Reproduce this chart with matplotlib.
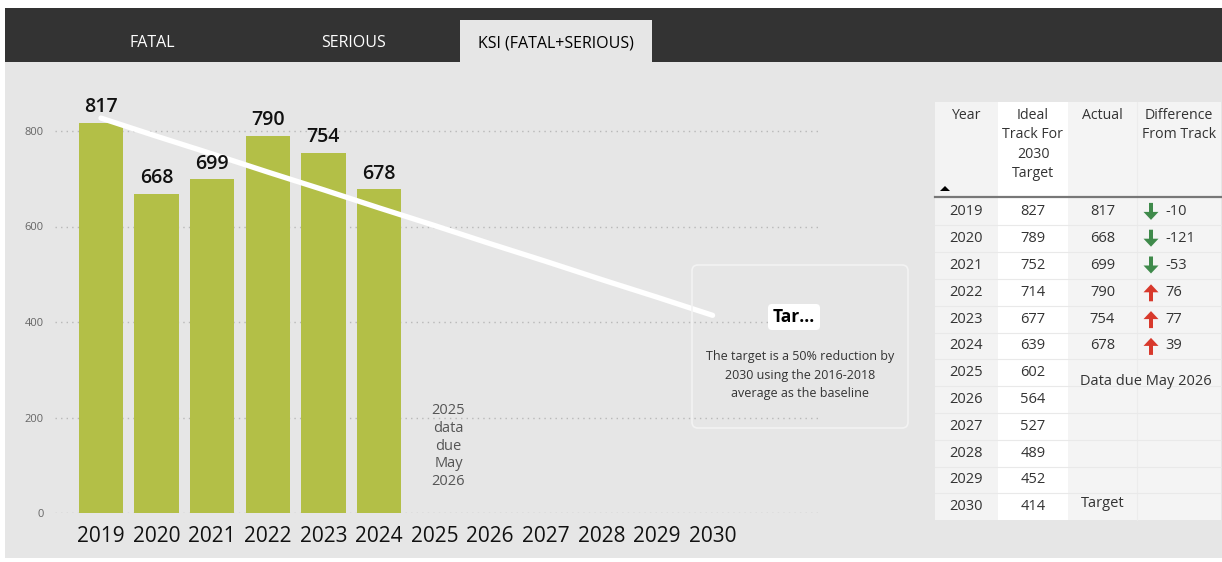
import matplotlib
matplotlib.use("Agg")
import matplotlib.pyplot as plt
from matplotlib.patches import Rectangle, FancyBboxPatch, FancyArrow, Polygon
import numpy as np

plt.rcParams["font.family"] = ["Open Sans", "DejaVu Sans"]

# Data
years = ["2019", "2020", "2021", "2022", "2023", "2024",
         "2025", "2026", "2027", "2028", "2029", "2030"]
ideal_track = [827, 789, 752, 714, 677, 639, 602, 564, 527, 489, 452, 414]
actual = [817, 668, 699, 790, 754, 678]
y_ticks = [0, 200, 400, 600, 800]
tabs = ["FATAL", "SERIOUS", "KSI (FATAL+SERIOUS)"]
table_headers = ["Year", "Ideal\nTrack For\n2030\nTarget", "Actual", "Difference\nFrom Track"]
pending_note = "2025\ndata\ndue\nMay\n2026"
target_note = ("The target is a 50% reduction by\n2030 using the 2016-2018\n"
               "average as the baseline")

W, H = 1222, 562
BG = "#e6e6e6"
BAR = "#b3bf47"

fig = plt.figure(figsize=(W / 100, H / 100), dpi=100)
fig.patch.set_facecolor("white")

# background / header layer in pixel coordinates
bg = fig.add_axes([0, 0, 1, 1], zorder=0)
bg.set_xlim(0, W)
bg.set_ylim(H, 0)
bg.axis("off")
bg.add_patch(Rectangle((5, 62), W - 5, 496, facecolor=BG, edgecolor="none"))
bg.add_patch(Rectangle((5, 8), W - 5, 54, facecolor="#333333", edgecolor="none"))
bg.add_patch(Rectangle((460, 20), 192, 42, facecolor=BG, edgecolor="none"))
for label, cx, col in zip(tabs, [152, 354, 556], ["white", "white", "black"]):
    bg.text(cx, 43, label, ha="center", va="center", fontsize=11.5, color=col)

# main chart
left, right = 55, 820
x0_pix, step = 101, 55.6
ymax = 880
ax = fig.add_axes([left / W, (H - 513) / H, (right - left) / W, ymax * 0.4775 / H], zorder=1)
ax.set_facecolor("none")
x = np.arange(len(years))
ax.set_xlim((left - x0_pix) / step, (right - x0_pix) / step)
ax.set_ylim(0, ymax)

ax.bar(x[:len(actual)], actual, width=0.8, color=BAR, zorder=2)
for xi, v in zip(x, actual):
    ax.annotate(str(v), (xi, v), xytext=(0, 4), textcoords="offset points",
                ha="center", va="bottom", fontsize=14, fontweight="semibold",
                color="#111111", zorder=4)

ax.plot(x, ideal_track, color="white", lw=3.8, solid_capstyle="round", zorder=3)

ax.text(6.25, 140, pending_note, ha="center", va="center", fontsize=10.5,
        color="#555555", linespacing=1.25)

ax.set_yticks(y_ticks)
ax.set_xticks(x)
ax.set_xticklabels(years, fontsize=15, color="#111111")
ax.tick_params(axis="y", length=0, pad=8, labelsize=8, labelcolor="#666666")
ax.tick_params(axis="x", length=0, pad=9)
ax.yaxis.grid(True, color="#b8b8b8", linestyle=(0, (1, 3)), linewidth=1)
ax.set_axisbelow(True)
for s in ax.spines.values():
    s.set_visible(False)

# overlay: tooltip box and table in pixel coordinates
ov = fig.add_axes([0, 0, 1, 1], zorder=2)
ov.set_xlim(0, W)
ov.set_ylim(H, 0)
ov.axis("off")

ov.add_patch(FancyBboxPatch((692, 265), 216, 163, boxstyle="round,pad=0,rounding_size=6",
                            facecolor="none", edgecolor="#f3f3f3", lw=1.2))
ov.add_patch(FancyBboxPatch((768, 304), 52, 26, boxstyle="round,pad=0,rounding_size=4",
                            facecolor="white", edgecolor="none"))
ov.text(794, 317, "Tar...", ha="center", va="center", fontsize=12.5,
        fontweight="bold", color="black")
ov.text(800, 375, target_note, ha="center", va="center", fontsize=9,
        color="#333333", linespacing=1.55)

# table
col_edges = [935, 998, 1068, 1137, 1221]
col_colors = ["#f3f3f3", "#ffffff", "#f4f4f4", "#f4f4f4"]
head_top, head_bot = 102, 198.5
row_h = 26.8
n_rows = len(years)
tbl_bot = head_bot + row_h * n_rows

for i in range(4):
    ov.add_patch(Rectangle((col_edges[i], head_top), col_edges[i + 1] - col_edges[i],
                           tbl_bot - head_top, facecolor=col_colors[i], edgecolor="none"))
ov.plot([col_edges[3], col_edges[3]], [head_top, tbl_bot], color="#ececec", lw=0.8)
for r in range(1, n_rows):
    yy = head_bot + r * row_h
    ov.plot([col_edges[0], col_edges[-1]], [yy, yy], color="#e9e9e9", lw=0.8)
ov.plot([col_edges[0], col_edges[-1]], [head_bot - 1.5, head_bot - 1.5], color="#777777", lw=1.6)

centers = [(col_edges[i] + col_edges[i + 1]) / 2 for i in range(4)]
for i, h in enumerate(table_headers):
    ov.text(centers[i], 108, h, ha="center", va="top",
            fontsize=10.2, color="#333333", linespacing=1.4)
ov.add_patch(Polygon([[940, 191], [950, 191], [945, 186]], closed=True,
                     facecolor="black", edgecolor="none"))

for r, (yr, it) in enumerate(zip(years, ideal_track)):
    cy = head_bot + (r + 0.5) * row_h
    ov.text(centers[0], cy, yr, ha="center", va="center", fontsize=10.5, color="#333333")
    ov.text(centers[1], cy, str(it), ha="center", va="center", fontsize=10.5, color="#333333")
    if r < len(actual):
        diff = actual[r] - it
        ov.text(centers[2], cy, str(actual[r]), ha="center", va="center",
                fontsize=10.5, color="#333333")
        if diff < 0:
            ov.add_patch(FancyArrow(1151, cy - 9, 0, 17, width=4, head_width=15,
                                    head_length=8, length_includes_head=True,
                                    facecolor="#3f8a4b", edgecolor="none"))
        else:
            ov.add_patch(FancyArrow(1151, cy + 9, 0, -17, width=4, head_width=15,
                                    head_length=8, length_includes_head=True,
                                    facecolor="#d8392c", edgecolor="none"))
        ov.text(1165, cy, str(diff), ha="left", va="center", fontsize=10.5, color="#333333")

ov.text(1146, head_bot + 6.5 * row_h + 9, "Data due May 2026", ha="center", va="center",
        fontsize=10.5, color="#333333")
ov.text(1103, head_bot + 11.5 * row_h - 3, "Target", ha="center", va="center",
        fontsize=10.5, color="#333333")

fig.savefig("out.png", dpi=100, facecolor="white")
plt.close(fig)
